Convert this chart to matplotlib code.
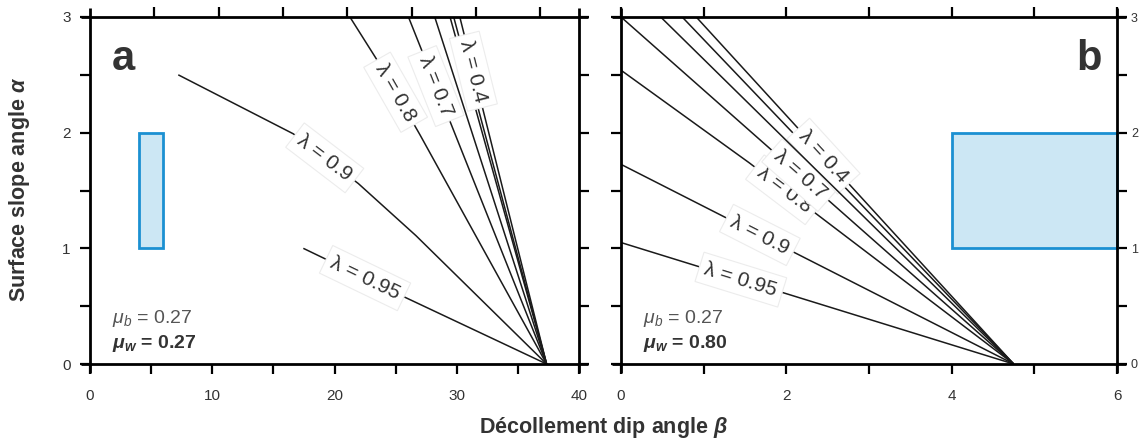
import numpy as np
import matplotlib
matplotlib.use("Agg")
import matplotlib.pyplot as plt
from matplotlib.patches import Rectangle

plt.rcParams['font.family'] = ['Liberation Sans', 'DejaVu Sans']
plt.rcParams['mathtext.fontset'] = 'custom'
plt.rcParams['mathtext.rm'] = 'Liberation Sans'
plt.rcParams['mathtext.it'] = 'Liberation Sans:italic'
plt.rcParams['mathtext.bf'] = 'Liberation Sans:bold'
plt.rcParams['mathtext.bfit'] = 'Liberation Sans:bold:italic'

# ---- panel a : mu_b = 0.27, mu_w = 0.27 (beta, alpha) ----
a_lines = [
    ("0.95", [17.45, 25.5, 37.35], [1.00, 0.59, 0.0]),
    ("0.9", [7.22, 16.63, 21.95, 26.66, 37.35], [2.50, 1.99, 1.56, 1.11, 0.0]),
    ("0.8", [21.26, 23.59, 27.0, 37.35], [3.0, 2.61, 1.98, 0.0]),
    ("0.7", [26.05, 37.35], [3.0, 0.0]),
    ("0.6", [28.2, 37.35], [3.0, 0.0]),
    ("0.5", [29.45, 37.35], [3.0, 0.0]),
    ("0.45", [29.75, 37.35], [3.0, 0.0]),
    ("0.4", [30.25, 37.35], [3.0, 0.0]),
]
a_label_beta = {"0.95": 22.5, "0.9": 19.2, "0.8": 25.0, "0.7": 28.3, "0.4": 31.36}

# ---- panel b : mu_b = 0.27, mu_w = 0.80 ----
b_lines = [
    ("0.95", [0.0, 4.75], [1.05, 0.0]),
    ("0.9", [0.0, 4.75], [1.726, 0.0]),
    ("0.8", [0.0, 1.55, 4.75], [2.54, 1.74, 0.0]),
    ("0.7", [0.0, 4.75], [3.0, 0.0]),
    ("0.6", [0.48, 4.75], [3.0, 0.0]),
    ("0.5", [0.74, 4.75], [3.0, 0.0]),
    ("0.4", [0.91, 4.75], [3.0, 0.0]),
]
b_label_beta = {"0.95": 1.45, "0.9": 1.68, "0.8": 1.98, "0.7": 2.165, "0.4": 2.45}

# observed range (box): beta, alpha
a_box = (4.0, 6.0, 1.0, 2.0)
b_box = (4.0, 6.0, 1.0, 2.0)

mu_b = "0.27"
a_mu_w = "0.27"
b_mu_w = "0.80"

W, H = 1147, 441
fig = plt.figure(figsize=(W / 100, H / 100), dpi=100)
ax_a = fig.add_axes([90 / W, 1 - 364 / H, (579 - 90) / W, (364 - 17) / H])
ax_b = fig.add_axes([621 / W, 1 - 364 / H, (1117 - 621) / W, (364 - 17) / H])

ax_a.set_xlim(0, 40)
ax_b.set_xlim(0, 6)
for ax in (ax_a, ax_b):
    ax.set_ylim(0, 3)

DARK = '#333333'


def draw_panel(ax, lines, label_beta, box, muw, letter, letter_right):
    for name, bx, by in lines:
        z = 5 if name == "0.6" else 2
        ax.plot(bx, by, color='#1a1a1a', lw=1.1, zorder=z, solid_capstyle='butt')
        if name in label_beta:
            x0 = label_beta[name]
            # beta increases while alpha drops, so interpolate on beta
            y0 = np.interp(x0, bx, by)
            dx = 0.01 * (ax.get_xlim()[1] - ax.get_xlim()[0])
            p1 = ax.transData.transform((x0 - dx, np.interp(x0 - dx, bx, by)))
            p2 = ax.transData.transform((x0 + dx, np.interp(x0 + dx, bx, by)))
            ang = np.degrees(np.arctan2(p2[1] - p1[1], p2[0] - p1[0]))
            ax.text(x0, y0, "λ = " + name, rotation=ang, rotation_mode='anchor',
                    ha='center', va='center', fontsize=15, color=DARK, zorder=4,
                    bbox=dict(boxstyle='square,pad=0.28', fc='white', ec='#ececec', lw=0.8))

    x1, x2, y1, y2 = box
    ax.add_patch(Rectangle((x1, y1), x2 - x1, y2 - y1, fc='#cce7f4', ec='#1b90d2',
                           lw=2, zorder=3, clip_on=False))

    if letter_right:
        ax.text(0.97, 0.847, letter, transform=ax.transAxes, ha='right', va='baseline',
                fontsize=30, fontweight='bold', color=DARK)
    else:
        ax.text(0.044, 0.847, letter, transform=ax.transAxes, ha='left', va='baseline',
                fontsize=30, fontweight='bold', color=DARK)
    ax.text(0.044, 0.118, r"$\mu_b$ = " + mu_b, transform=ax.transAxes, ha='left',
            va='baseline', fontsize=14, color='#555555')
    ax.text(0.044, 0.046, r"$\mathbfit{\mu}_\mathbfit{w}$ = " + muw, transform=ax.transAxes,
            ha='left', va='baseline', fontsize=14, fontweight='bold', color=DARK)

    # frame with axis lines running past the corners
    for s in ax.spines.values():
        s.set_visible(False)
    bbox = ax.get_position()
    ex = 9 / (bbox.width * W)
    ey = 9 / (bbox.height * H)
    kw = dict(transform=ax.transAxes, color='k', lw=2, clip_on=False, zorder=6,
              solid_capstyle='butt')
    ax.plot([-ex, 1 + ex], [0, 0], **kw)
    ax.plot([-ex, 1 + ex], [1, 1], **kw)
    ax.plot([0, 0], [-ey, 1 + ey], **kw)
    ax.plot([1, 1], [-ey, 1 + ey], **kw)

    ax.tick_params(which='both', direction='out', length=7, width=1.6, color='k',
                   labelsize=11, labelcolor=DARK, pad=11)


draw_panel(ax_a, a_lines, a_label_beta, a_box, a_mu_w, 'a', False)
draw_panel(ax_b, b_lines, b_label_beta, b_box, b_mu_w, 'b', True)

# panel a ticks
ax_a.set_xticks([0, 10, 20, 30, 40])
ax_a.set_xticks([5, 15, 25, 35], minor=True)
ax_a.set_yticks([0, 1, 2, 3])
ax_a.set_yticks([0.5, 1.5, 2.5], minor=True)
ax_a.tick_params(axis='y', which='both', left=True, right=True, labelleft=True, pad=7)
ax_a.tick_params(axis='x', which='both', bottom=True, top=False)
top_a = ax_a.twiny()
top_a.set_xlim(0, 38)
top_a.set_xticks([5, 10, 15, 20, 25, 30, 35])
top_a.tick_params(direction='out', length=7, width=1.6, labeltop=False)
for s in top_a.spines.values():
    s.set_visible(False)

# panel b ticks
ax_b.set_xticks([0, 2, 4, 6])
ax_b.set_xticks([1, 3, 5], minor=True)
ax_b.set_yticks([0, 1, 2, 3])
ax_b.set_yticks([0.5, 1.5, 2.5], minor=True)
ax_b.tick_params(axis='x', which='both', bottom=True, top=True, labeltop=False)
ax_b.tick_params(axis='y', which='both', left=True, right=True, labelleft=False,
                 labelright=True, labelsize=9, pad=3)

fig.text(20 / W, 1 - 189 / H, r"Surface slope angle $\mathbfit{\alpha}$", rotation=90,
         ha='center', va='center', fontsize=15.5, fontweight='bold', color=DARK)
fig.text(603 / W, 1 - 427 / H, r"Décollement dip angle $\mathbfit{\beta}$",
         ha='center', va='center', fontsize=15.5, fontweight='bold', color=DARK)

fig.savefig("out.png", dpi=100)
